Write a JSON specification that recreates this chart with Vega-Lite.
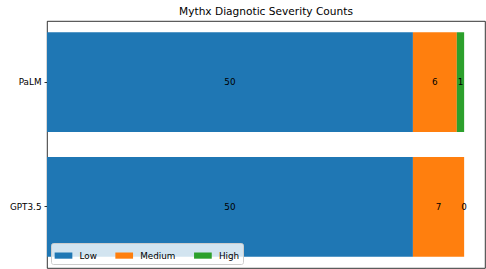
{
  "$schema": "https://vega.github.io/schema/vega-lite/v6.json",
  "width": 438,
  "height": 247,
  "autosize": {"type": "none"},
  "padding": {"left": 47, "top": 21, "right": 1, "bottom": 1},
  "background": "white",
  "config": {
    "font": "DejaVu Sans",
    "view": {"stroke": "black", "strokeWidth": 0.8}
  },
  "title": {
    "text": "Mythx Diagnotic Severity Counts",
    "fontSize": 10.6,
    "fontWeight": "normal",
    "font": "DejaVu Sans",
    "color": "black",
    "offset": 3,
    "anchor": "middle"
  },
  "data": {
    "values": [
      {"model": "PaLM", "severity": "Low", "count": 50},
      {"model": "PaLM", "severity": "Medium", "count": 6},
      {"model": "PaLM", "severity": "High", "count": 1},
      {"model": "GPT3.5", "severity": "Low", "count": 50},
      {"model": "GPT3.5", "severity": "Medium", "count": 7},
      {"model": "GPT3.5", "severity": "High", "count": 0}
    ]
  },
  "transform": [
    {"window": [{"op": "row_number", "as": "idx"}]},
    {"stack": "count", "groupby": ["model"], "sort": [{"field": "idx", "order": "ascending"}], "as": ["x0", "x1"]},
    {"calculate": "(datum.x0 + datum.x1) / 2", "as": "xmid"}
  ],
  "encoding": {
    "y": {
      "field": "model",
      "type": "nominal",
      "sort": ["PaLM", "GPT3.5"],
      "scale": {"paddingInner": 0.2, "paddingOuter": 0.09},
      "axis": {
        "title": null,
        "domain": false,
        "ticks": true,
        "tickSize": 3,
        "tickColor": "black",
        "tickWidth": 0.8,
        "labelPadding": 3,
        "labelFontSize": 8.8,
        "labelColor": "black",
        "labelFont": "DejaVu Sans"
      }
    }
  },
  "layer": [
    {
      "mark": {"type": "bar"},
      "encoding": {
        "x": {
          "field": "x0",
          "type": "quantitative",
          "scale": {"domain": [0, 59.85], "nice": false, "zero": false},
          "axis": null
        },
        "x2": {"field": "x1"},
        "color": {
          "field": "severity",
          "type": "nominal",
          "scale": {"domain": ["Low", "Medium", "High"], "range": ["#1f77b4", "#ff7f0e", "#2ca02c"]},
          "legend": {
            "title": null,
            "orient": "bottom-left",
            "direction": "horizontal",
            "columns": 3,
            "offset": 4,
            "padding": 3.5,
            "columnPadding": 17.7,
            "symbolType": "M-1,-0.35L1,-0.35L1,0.35L-1,0.35Z",
            "symbolSize": 313,
            "symbolStrokeWidth": 0,
            "symbolOpacity": 1,
            "labelOffset": 7,
            "labelFontSize": 8.8,
            "labelFont": "DejaVu Sans",
            "labelColor": "black",
            "fillColor": "rgba(255,255,255,0.8)",
            "strokeColor": "#cccccc",
            "cornerRadius": 2
          }
        }
      }
    },
    {
      "mark": {"type": "text", "fontSize": 8.8, "color": "black", "align": "center", "baseline": "middle", "font": "DejaVu Sans"},
      "encoding": {
        "x": {"field": "xmid", "type": "quantitative"},
        "text": {"field": "count", "type": "quantitative"}
      }
    }
  ]
}
